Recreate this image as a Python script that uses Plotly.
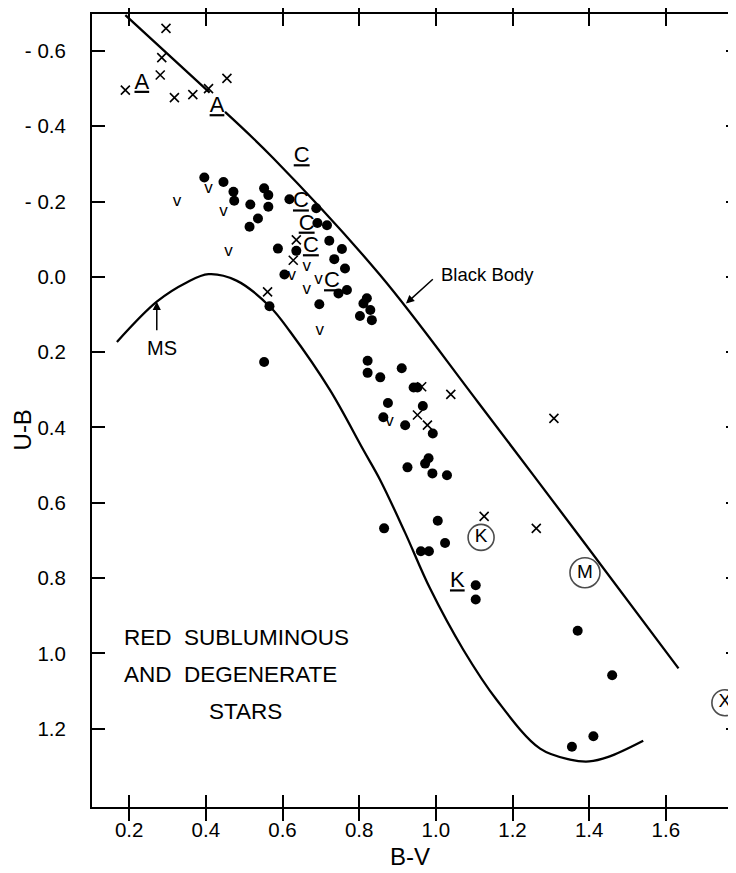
import plotly.graph_objects as go

FONT = "Liberation Sans"

# ---- axis ticks ----
x_ticks = [0.2, 0.4, 0.6, 0.8, 1.0, 1.2, 1.4, 1.6]
x_ticklabels = ["0.2", "0.4", "0.6", "0.8", "1.0", "1.2", "1.4", "1.6"]
y_ticks = [-0.6, -0.4, -0.2, 0.0, 0.2, 0.4, 0.6, 0.8, 1.0, 1.2]
y_ticklabels = ["- 0.6", "- 0.4", "- 0.2", "0.0", "0.2", "0.4", "0.6", "0.8", "1.0", "1.2"]

# ---- filled circles ----
dots_bv = [0.396, 0.446, 0.472, 0.474, 0.552, 0.563, 0.563, 0.516, 0.536, 0.514,
           0.618, 0.688, 0.691, 0.716, 0.722, 0.755, 0.735, 0.763, 0.588, 0.636,
           0.605, 0.768, 0.746, 0.696, 0.566, 0.820, 0.811, 0.829, 0.802, 0.833,
           0.552, 0.822, 0.822, 0.855, 0.911, 0.942, 0.952, 0.875, 0.966, 0.863,
           0.920, 0.992, 0.981, 0.972, 0.926, 0.991, 1.029, 0.865, 1.005, 1.024,
           0.961, 0.982, 1.104, 1.104, 1.370, 1.460, 1.355, 1.411]
dots_ub = [-0.264, -0.252, -0.226, -0.202, -0.235, -0.217, -0.186, -0.192, -0.155, -0.133,
           -0.206, -0.182, -0.143, -0.137, -0.096, -0.074, -0.047, -0.022, -0.075, -0.069,
           -0.006, 0.035, 0.044, 0.073, 0.078, 0.057, 0.071, 0.088, 0.104, 0.115,
           0.226, 0.223, 0.255, 0.267, 0.243, 0.294, 0.294, 0.335, 0.343, 0.373,
           0.394, 0.416, 0.482, 0.496, 0.506, 0.522, 0.527, 0.668, 0.648, 0.707,
           0.729, 0.729, 0.819, 0.857, 0.940, 1.058, 1.248, 1.220]

# ---- crosses ----
cross_bv = [0.296, 0.285, 0.281, 0.190, 0.318, 0.366, 0.407, 0.455,
            0.636, 0.628, 0.561, 0.963, 1.039, 0.952, 0.978, 1.308, 1.126, 1.262]
cross_ub = [-0.660, -0.582, -0.536, -0.496, -0.476, -0.484, -0.500, -0.527,
            -0.098, -0.044, 0.040, 0.292, 0.312, 0.367, 0.394, 0.376, 0.636, 0.668]

# ---- "v" marks ----
vee_bv = [0.407, 0.446, 0.459, 0.325, 0.663, 0.624, 0.694, 0.663, 0.697, 0.879]
vee_ub = [-0.235, -0.173, -0.066, -0.199, -0.027, -0.002, 0.009, 0.035, 0.142, 0.385]

# ---- underlined letter labels ----
lab_bv = [0.233, 0.429, 0.650, 0.648, 0.663, 0.674, 0.729, 1.056]
lab_ub = [-0.514, -0.452, -0.319, -0.199, -0.140, -0.080, 0.013, 0.810]
lab_txt = ["A", "A", "C", "C", "C", "C", "C", "K"]

# ---- circled labels ----
circ_bv = [1.118, 1.389, 1.754]
circ_ub = [0.692, 0.786, 1.131]
circ_txt = ["K", "M", "X"]
circ_size = [26, 30, 26]

# ---- black body curve (two pieces, broken at label) ----
bb1_bv = [0.190, 0.300, 0.410]
bb1_ub = [-0.695, -0.592, -0.489]
bb2_bv = [0.450, 0.576, 0.855, 1.110, 1.376, 1.633]
bb2_ub = [-0.438, -0.315, -0.004, 0.333, 0.691, 1.040]

# ---- main sequence curve ----
ms_bv = [0.168, 0.272, 0.350, 0.407, 0.480, 0.568, 0.620, 0.724, 0.811, 0.855,
         0.920, 0.985, 1.072, 1.159, 1.272, 1.350, 1.400, 1.450, 1.541]
ms_ub = [0.173, 0.066, 0.015, -0.007, 0.010, 0.080, 0.146, 0.301, 0.460, 0.540,
         0.680, 0.828, 0.991, 1.124, 1.253, 1.282, 1.287, 1.275, 1.232]

fig = go.Figure()

line_style = dict(color="black", width=2.3, shape="spline")
fig.add_trace(go.Scatter(x=bb1_bv, y=bb1_ub, mode="lines", line=line_style, hoverinfo="skip"))
fig.add_trace(go.Scatter(x=bb2_bv, y=bb2_ub, mode="lines", line=line_style, hoverinfo="skip"))
fig.add_trace(go.Scatter(x=ms_bv, y=ms_ub, mode="lines", line=line_style, hoverinfo="skip"))

fig.add_trace(go.Scatter(x=dots_bv, y=dots_ub, mode="markers",
                         marker=dict(symbol="circle", size=10, color="black"), hoverinfo="skip"))
fig.add_trace(go.Scatter(x=cross_bv, y=cross_ub, mode="markers",
                         marker=dict(symbol="x-thin", size=9, color="black",
                                     line=dict(color="black", width=1.6)),
                         hoverinfo="skip"))
fig.add_trace(go.Scatter(x=vee_bv, y=vee_ub, mode="text", text=["v"] * len(vee_bv),
                         textfont=dict(family=FONT, size=17, color="black"), hoverinfo="skip"))
fig.add_trace(go.Scatter(x=lab_bv, y=lab_ub, mode="text",
                         text=["<u>%s</u>" % t for t in lab_txt],
                         textfont=dict(family=FONT, size=22, color="black"), hoverinfo="skip"))
fig.add_trace(go.Scatter(x=circ_bv, y=circ_ub, mode="markers+text", text=circ_txt,
                         textposition="middle center",
                         textfont=dict(family=FONT, size=19, color="black"),
                         marker=dict(symbol="circle-open", size=circ_size, color="black",
                                     line=dict(color="black", width=1.6)),
                         yaxis="y2", hoverinfo="skip"))

# text annotations
ann = []
ann.append(dict(x=1.007, y=-0.005, xref="x", yref="y", text="Black Body", showarrow=False,
                xanchor="left", yanchor="middle", font=dict(family=FONT, size=18.5, color="black")))
ann.append(dict(x=0.922, y=0.071, ax=0.996, ay=0.003, xref="x", yref="y", axref="x", ayref="y",
                text="", showarrow=True, arrowhead=2, arrowsize=1.1, arrowwidth=1.5,
                arrowcolor="black"))
ann.append(dict(x=0.285, y=0.190, xref="x", yref="y", text="MS", showarrow=False,
                xanchor="center", yanchor="middle", font=dict(family=FONT, size=20, color="black")))
ann.append(dict(x=0.272, y=0.066, ax=0.272, ay=0.146, xref="x", yref="y", axref="x", ayref="y",
                text="", showarrow=True, arrowhead=2, arrowsize=1.1, arrowwidth=1.5,
                arrowcolor="black"))
for txt, xx, yy in [("RED  SUBLUMINOUS", 0.180, 0.957),
                    ("AND  DEGENERATE", 0.180, 1.056),
                    ("STARS", 0.404, 1.154)]:
    ann.append(dict(x=xx, y=yy, xref="x", yref="y", text=txt, showarrow=False,
                    xanchor="left", yanchor="middle",
                    font=dict(family=FONT, size=22.5, color="black")))
ann.append(dict(x=-0.108, y=0.4754, xref="paper", yref="paper", text="U-B", showarrow=False,
                textangle=-90, xanchor="center", yanchor="middle",
                font=dict(family=FONT, size=24, color="black")))
ann.append(dict(x=0.494, y=-0.063, xref="paper", yref="paper", text="B-V", showarrow=False,
                xanchor="center", yanchor="middle",
                font=dict(family=FONT, size=24, color="black")))

# page body has an 8px margin; size the figure so the plot lands where the reference has it
fig.update_layout(
    width=728, height=865,
    margin=dict(l=84, r=0, t=6, b=66),
    paper_bgcolor="white", plot_bgcolor="white",
    showlegend=False, hovermode=False,
    annotations=ann,
    xaxis=dict(range=[0.103, 1.783], tickvals=x_ticks, ticktext=x_ticklabels,
               ticks="inside", ticklen=12, tickwidth=1.5, tickcolor="black",
               showline=True, linewidth=2, linecolor="black", mirror="allticks",
               showgrid=False, zeroline=False, ticklabelstandoff=3,
               tickfont=dict(family=FONT, size=20.5, color="black")),
    yaxis=dict(range=[1.408, -0.698], tickvals=y_ticks, ticktext=y_ticklabels,
               ticks="inside", ticklen=13, tickwidth=1.5, tickcolor="black",
               showline=True, linewidth=2, linecolor="black", mirror=False,
               showgrid=False, zeroline=False, ticklabelstandoff=20,
               tickfont=dict(family=FONT, size=20.5, color="black")),
    yaxis2=dict(overlaying="y", side="right", matches="y", tickvals=y_ticks,
                ticks="inside", ticklen=10, tickwidth=1.5, tickcolor="black",
                showline=False, showticklabels=False, showgrid=False, zeroline=False),
)

fig.write_html("out.html")
